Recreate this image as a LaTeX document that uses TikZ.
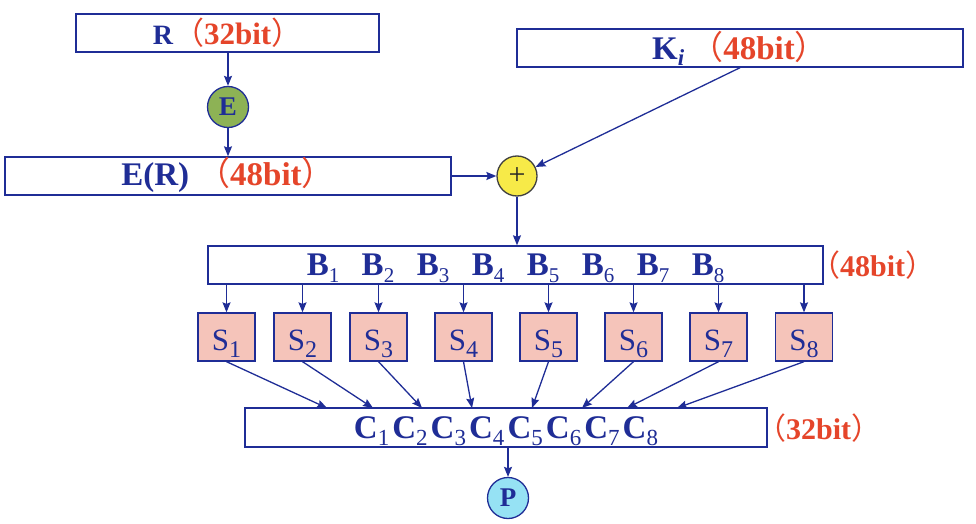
\documentclass[tikz,border=0pt]{standalone}
\usepackage{fontspec}
\setmainfont{Liberation Serif}
\newfontfamily\cjk{Noto Sans CJK SC}
\usetikzlibrary{arrows.meta,calc}
\definecolor{dblue}{HTML}{1F2D96}
\definecolor{bitred}{HTML}{E5452A}
\definecolor{sfill}{HTML}{F5C4BA}
\definecolor{efill}{HTML}{8DB255}
\definecolor{yfill}{HTML}{F7EA48}
\definecolor{pfill}{HTML}{96E2F4}
\newcommand\bitlbl[1]{\textcolor{bitred}{{\cjk\mdseries （}#1{\cjk\mdseries ）}}}
\newcommand\lsub[3]{\raisebox{-#2}{\fontsize{#1}{#1}\selectfont\mdseries #3}}
\newcommand\bl[1]{\makebox[55pt]{B\lsub{21pt}{7pt}{#1}}}
\newcommand\cl[1]{\makebox[38.4pt]{C\lsub{23pt}{7pt}{#1}}}
\begin{document}
\begin{tikzpicture}[x=1pt,y=-1pt,
  box/.style={draw=dblue,line width=1.4pt,fill=white,inner sep=0pt,text=dblue,
    font=\fontsize{33}{33}\selectfont\bfseries,minimum height=38pt,text depth=0pt},
  circ/.style={circle,draw=dblue,line width=1.3pt,inner sep=0pt,minimum size=41pt,text=dblue,
    font=\fontsize{27}{27}\selectfont\bfseries},
  sbox/.style={draw=dblue,line width=1.3pt,fill=sfill,inner sep=0pt,text=dblue,
    minimum width=57pt,minimum height=48pt,text height=26pt,text depth=0pt,
    font=\fontsize{31}{31}\selectfont},
  bitnode/.style={inner sep=0pt,anchor=base west,font=\fontsize{30}{30}\selectfont\bfseries},
  arr/.style={draw=dblue,line width=1.3pt,-{Stealth[length=10pt,width=8pt,inset=1.5pt]}}]
\useasboundingbox (0,0) rectangle (976,524);

\node[box,font=\fontsize{28}{28}\selectfont\bfseries,minimum width=303pt,text height=24pt] (r) at (227.5,33)
  {R{\fontsize{31}{31}\selectfont\bitlbl{32bit}}};
\node[circ,fill=efill] (e) at (228,107) {E};
\node[box,minimum width=446pt,text height=18pt] (er) at (228,176) {E(R)\hspace{8pt}\bitlbl{48bit}};
\node[box,minimum width=446pt,text height=24pt] (ki) at (740,48) {K\lsub{23pt}{6pt}{\bfseries\itshape i}\hspace{6pt}\bitlbl{48bit}};
\node[circ,fill=yfill,draw=black!75,text=black!85,minimum size=40pt,font=\fontsize{30}{30}\selectfont] (plus) at (517,176) {+};

\node[box,minimum width=615pt,text height=20pt] (bb) at (515.5,265)
  {\bl1\bl2\bl3\bl4\bl5\bl6\bl7\bl8};
\node[bitnode] (bbit) at (810,276) {\bitlbl{48bit}};

\foreach \i/\x in {1/226.5,2/302.5,3/378.5,4/463.5,5/548.5,6/633.5,7/718.5,8/804}
  \node[sbox] (s\i) at (\x,337) {S\lsub{24pt}{7pt}{\i}};

\node[box,minimum width=522pt,minimum height=39pt,text height=22pt] (cb) at (506,427.5)
  {\cl1\cl2\cl3\cl4\cl5\cl6\cl7\cl8};
\node[bitnode] (cbit) at (756,439) {\bitlbl{32bit}};
\node[circ,fill=pfill] (p) at (508,498) {P};

\foreach \i/\x in {1/327,2/373,3/422,4/472,5/532,6/582,7/627,8/677}
  \coordinate (ct\i) at (\x,408);

\draw[arr] (r.south -| e) -- (e.north);
\draw[arr] (e.south) -- (er.north -| e);
\draw[arr] (er.east) -- (plus.west);
\draw[arr] (ki.south) -- (plus);
\draw[arr] (plus.south) -- (bb.north -| plus);
\foreach \i in {1,...,8} {
  \draw[arr] (bb.south -| s\i.north) -- (s\i.north);
  \draw[arr] (s\i.south) -- (ct\i);
}
\draw[arr] (cb.south -| p) -- (p.north);
\end{tikzpicture}
\end{document}
